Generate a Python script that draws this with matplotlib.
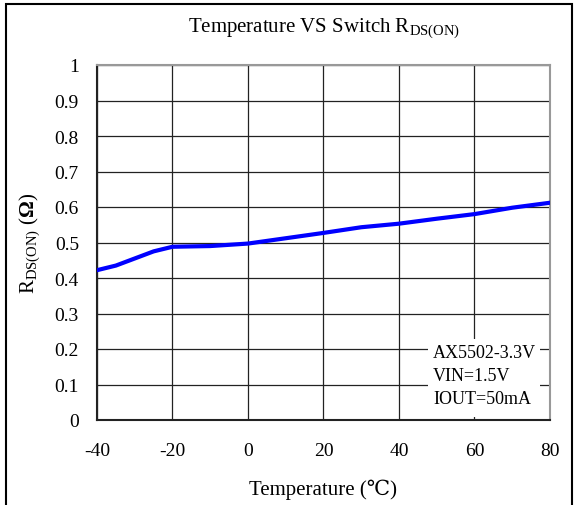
import numpy as np
import matplotlib.pyplot as plt
from matplotlib.patches import Rectangle

plt.rcParams['font.family'] = ['Liberation Serif', 'DejaVu Serif']
plt.rcParams['mathtext.fontset'] = 'custom'
plt.rcParams['mathtext.rm'] = 'Liberation Serif'
plt.rcParams['mathtext.bf'] = 'Liberation Serif:bold'
plt.rcParams['axes.unicode_minus'] = False

# temperature (C) and switch resistance (ohm)
temp = [-40, -35, -30, -25, -20, -10, 0, 10, 20, 30, 40, 50, 60, 70, 80]
rdson = [0.422, 0.435, 0.455, 0.475, 0.488, 0.49, 0.497, 0.512, 0.527, 0.543, 0.553, 0.567, 0.58, 0.598, 0.612]

xticks = [-40, -20, 0, 20, 40, 60, 80]
yticks = [0, 0.1, 0.2, 0.3, 0.4, 0.5, 0.6, 0.7, 0.8, 0.9, 1]
ylabels = ['0', '0.1', '0.2', '0.3', '0.4', '0.5', '0.6', '0.7', '0.8', '0.9', '1']
note = ['AX5502-3.3V', 'VIN=1.5V', 'IOUT=50mA']

fig = plt.figure(figsize=(5.74, 5.06), dpi=100)
ax = fig.add_axes([97 / 574, 85 / 506, 453 / 574, 355 / 506])

# outer frame of the figure
fig.patches.append(Rectangle((6 / 574, -0.05), 566 / 574, 1.05 - 5 / 506, transform=fig.transFigure,
                             fill=False, edgecolor='black', linewidth=1.5))

ax.plot(temp, rdson, color='#0000ff', linewidth=3, zorder=3)

ax.set_xlim(-40, 80)
ax.set_ylim(0, 1)
ax.set_xticks(xticks)
ax.set_yticks(yticks)
ax.set_yticklabels(ylabels)
ax.tick_params(labelsize=14, length=0)
ax.tick_params(axis='x', pad=16)
ax.tick_params(axis='y', pad=13)
ax.grid(True, color='#222222', linewidth=0.9)
ax.set_axisbelow(True)
for side in ['top', 'right']:
    ax.spines[side].set_color('#999999')
    ax.spines[side].set_linewidth(1.5)
for side in ['left', 'bottom']:
    ax.spines[side].set_color('#222222')
    ax.spines[side].set_linewidth(1.5)

ax.set_title(r'Temperature VS Switch R$_{\mathrm{DS(ON)}}$', fontsize=15, pad=24)
ax.set_xlabel('Temperature (\u2103)', fontsize=15, labelpad=14)
ax.set_ylabel(r'R$_{\mathrm{DS(ON)}}$ ($\mathbf{\Omega}$)', fontsize=15, labelpad=8)

# condition box
ax.add_patch(Rectangle((47.7, 0.008), 29.7, 0.22, facecolor='white', edgecolor='none', zorder=2))
ax.text(49.0, 0.213, '\n'.join(note), fontsize=13, va='top', ha='left', linespacing=1.45, zorder=4)

fig.savefig('out.png', dpi=100)
